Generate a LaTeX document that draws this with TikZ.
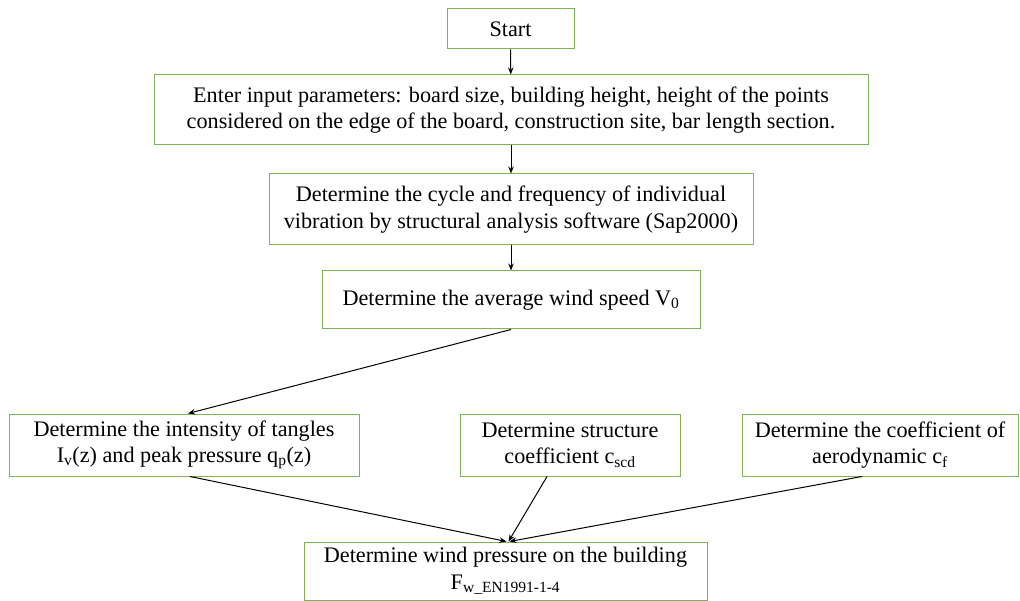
\documentclass[tikz,border=0pt]{standalone}
\usepackage{fontspec}
\setmainfont{Liberation Serif}
\usetikzlibrary{arrows.meta}
\definecolor{boxgreen}{HTML}{7DB356}
\tikzset{
  stepbox/.style={draw=boxgreen, line width=1pt, fill=white, inner sep=0pt,
    align=center, font=\fontsize{22.2}{26.5}\selectfont},
  flow/.style={draw=black, line width=1pt, -{Stealth[length=7pt,width=5.5pt]}}
}
\begin{document}
\begin{tikzpicture}[x=1pt,y=-1pt]
\useasboundingbox (0,0) rectangle (1020,601);

% process steps, top to bottom
\node[stepbox, minimum width=127pt, minimum height=40pt] (start) at (510.5,29) {Start};
\node[stepbox, minimum width=714pt, minimum height=70pt] (input) at (511,110)
  {Enter input parameters: board size, building height, height of the points\\
   considered on the edge of the board, construction site, bar length section.};
\node[stepbox, minimum width=484pt, minimum height=71pt] (cycle) at (511,209.5)
  {Determine the cycle and frequency of individual\\
   vibration by structural analysis software (Sap2000)};
\node[stepbox, minimum width=378pt, minimum height=58pt] (speed) at (511,300)
  {Determine the average wind speed V\textsubscript{0}};

% parallel coefficients
\node[stepbox, minimum width=350pt, minimum height=62pt] (tangle) at (184,445)
  {Determine the intensity of tangles\\
   I\textsubscript{v}(z) and peak pressure q\textsubscript{p}(z)};
\node[stepbox, minimum width=220pt, minimum height=62pt] (struct) at (570,445)
  {Determine structure\\ coefficient c\textsubscript{scd}};
\node[stepbox, minimum width=276pt, minimum height=62pt] (aero) at (880,445)
  {Determine the coefficient of\\ aerodynamic c\textsubscript{f}};

% result
\node[stepbox, minimum width=403pt, minimum height=58pt] (wind) at (505.5,571)
  {Determine wind pressure on the building\\
   F\textsubscript{w\_EN1991-1-4}};

% connectors
\draw[flow] (start) -- (input);
\draw[flow] (input) -- (cycle);
\draw[flow] (cycle) -- (speed);
\draw[flow] (speed.south) -- ([xshift=4pt]tangle.north);
\draw[flow] ([xshift=6pt]tangle.south) -- ([xshift=1pt]wind.north);
\draw[flow] ([xshift=-23pt]struct.south) -- ([xshift=3pt]wind.north);
\draw[flow] ([xshift=-18pt]aero.south) -- ([xshift=4pt]wind.north);
\end{tikzpicture}
\end{document}
